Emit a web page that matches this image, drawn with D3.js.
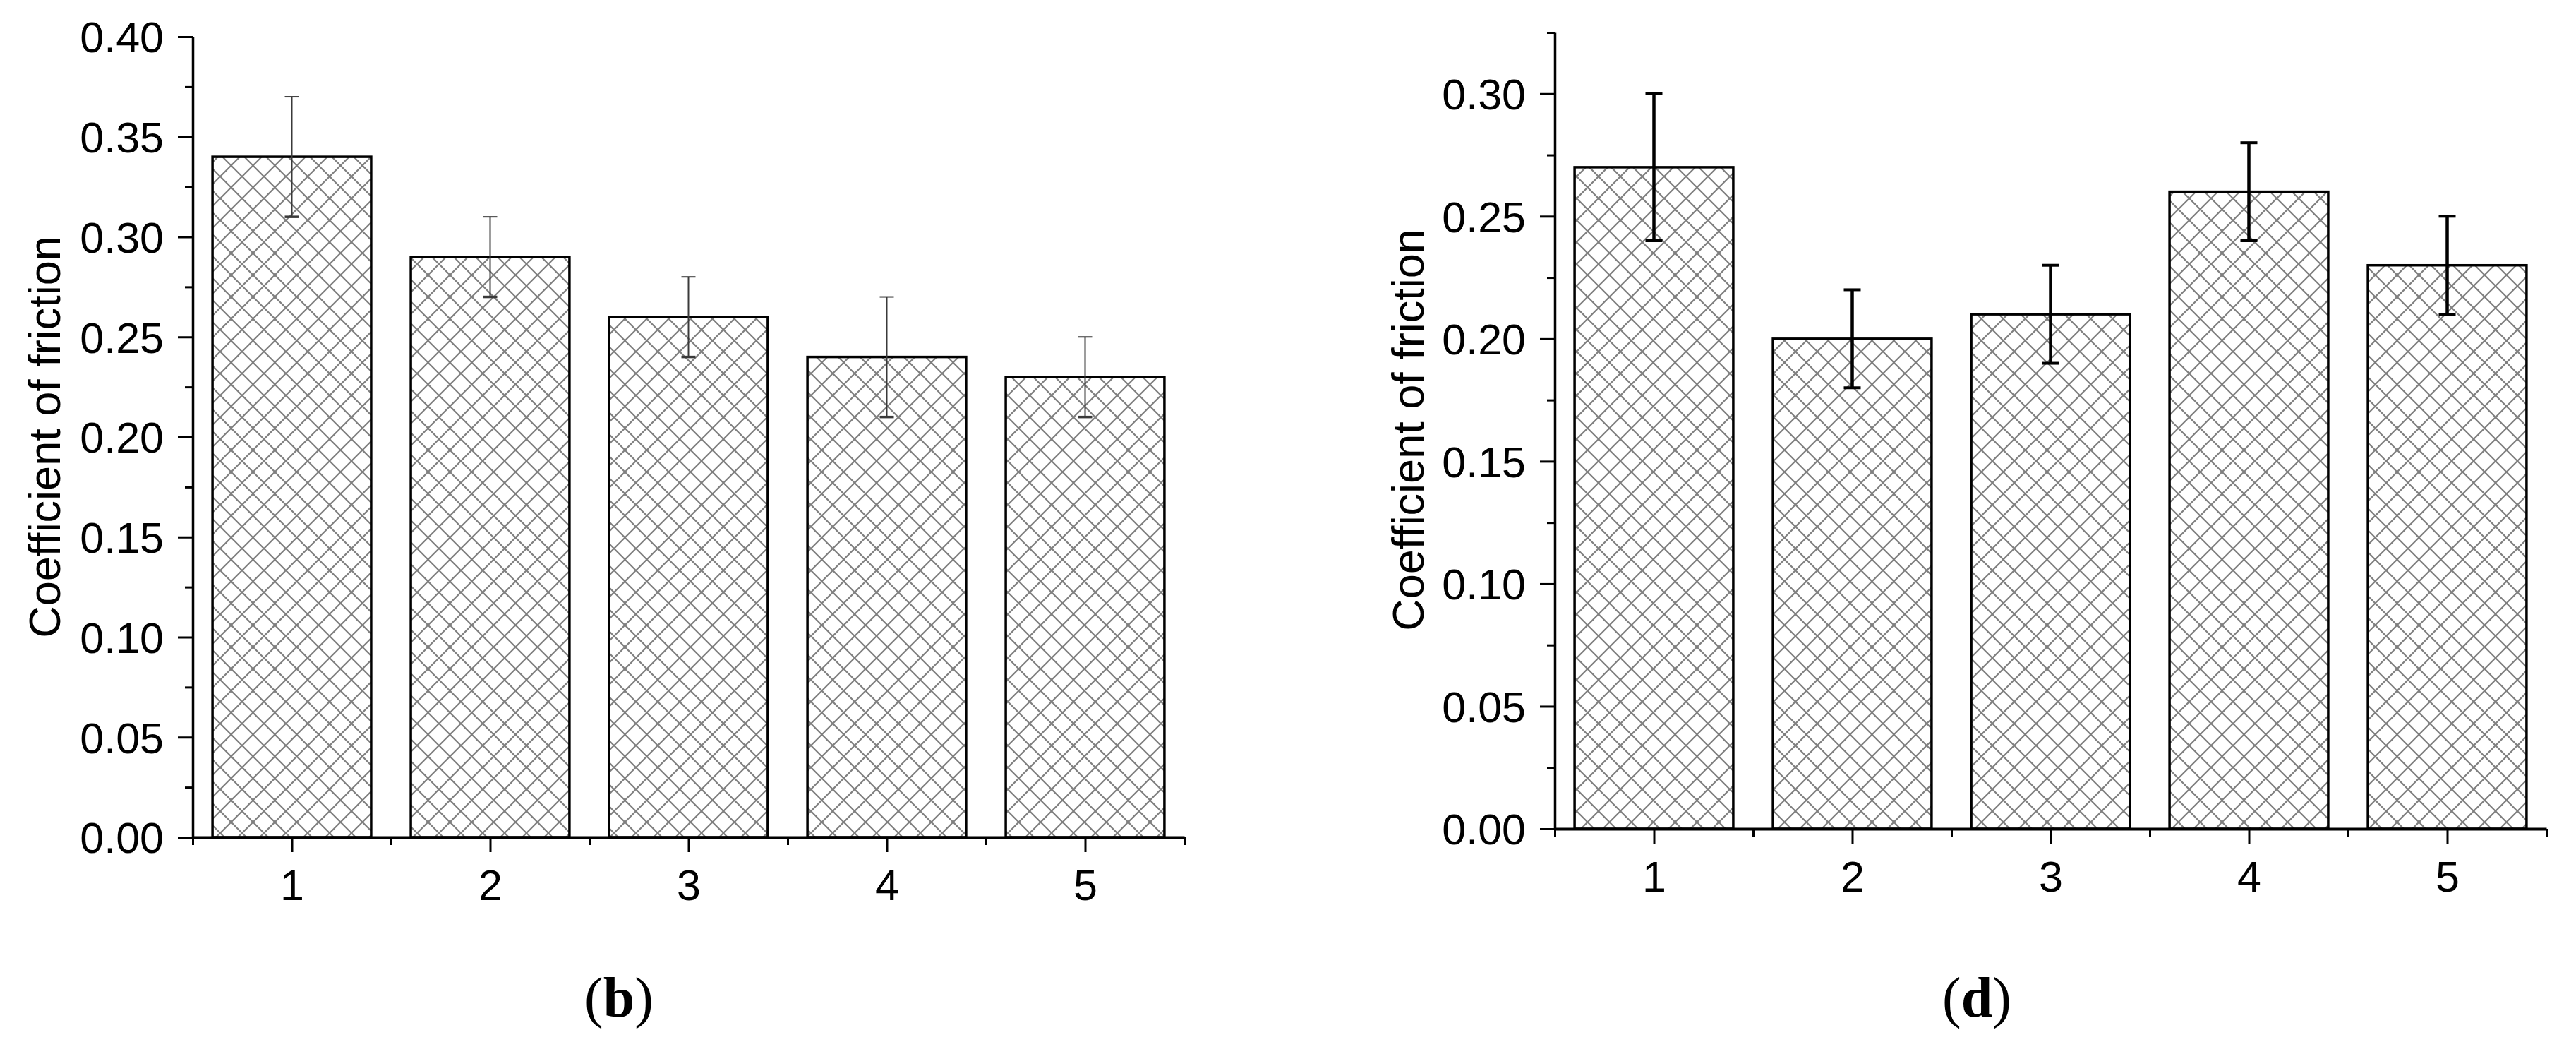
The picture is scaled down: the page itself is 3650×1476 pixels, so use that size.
<!DOCTYPE html>
<html>
<head>
<meta charset="utf-8">
<script src="https://cdn.jsdelivr.net/npm/d3@7"></script>
<style>
  body { margin: 0; background: #fff; }
  .tick text { font-family: "Liberation Sans", Arial, sans-serif; fill: #000; }
</style>
</head>
<body>
<svg id="chart" width="3650" height="1476"></svg>
<script>
// data
var categories = [1, 2, 3, 4, 5];
var cofB = [0.34, 0.29, 0.26, 0.24, 0.23];
var errB = [0.03, 0.02, 0.02, 0.03, 0.02];
var cofD = [0.27, 0.20, 0.21, 0.26, 0.23];
var errD = [0.03, 0.02, 0.02, 0.02, 0.02];
var yTicksB = [0, 0.05, 0.10, 0.15, 0.20, 0.25, 0.30, 0.35, 0.40];
var yTicksD = [0, 0.05, 0.10, 0.15, 0.20, 0.25, 0.30];
var yTitle = "Coefficient of friction";

var svg = d3.select("#chart");
svg.append("rect").attr("width", 3650).attr("height", 1476).attr("fill", "#fff");

// cross hatch
var pat = svg.append("defs").append("pattern")
    .attr("id", "hatch")
    .attr("patternUnits", "userSpaceOnUse")
    .attr("width", 31).attr("height", 31)
    .attr("x", 2).attr("y", 2);
pat.append("rect").attr("width", 31).attr("height", 31).attr("fill", "#fff");
pat.append("path")
    .attr("d", "M0,0L31,31M-15.5,15.5L15.5,46.5M15.5,-15.5L46.5,15.5M0,31L31,0M-15.5,15.5L15.5,-15.5M15.5,46.5L46.5,15.5")
    .attr("stroke", "#000")
    .attr("stroke-opacity", 0.5)
    .attr("stroke-width", 2.2);

function panel(o){
    var g = svg.append("g");

    var x = d3.scaleLinear().domain([0.5, 5.5]).range([o.left, o.left + 5 * o.step]);
    var y = d3.scaleLinear().domain([0, o.ymax]).range([o.bottom, o.top]);

    // bars
    g.selectAll("rect.bar")
        .data(o.values)
        .join("rect")
        .attr("class", "bar")
        .attr("x", function(d, i){ return x(categories[i] - 0.4); })
        .attr("width", x(1.4) - x(0.6))
        .attr("y", function(d){ return y(d); })
        .attr("height", function(d){ return y(0) - y(d); })
        .attr("fill", "url(#hatch)")
        .attr("stroke", "#000")
        .attr("stroke-width", 3.5);

    // error bars
    var eb = g.selectAll("g.err")
        .data(o.values)
        .join("g")
        .attr("class", "err")
        .attr("stroke", o.errColor);
    eb.append("line")
        .attr("x1", function(d, i){ return x(categories[i]); })
        .attr("x2", function(d, i){ return x(categories[i]); })
        .attr("y1", function(d, i){ return y(d + o.errors[i]); })
        .attr("y2", function(d, i){ return y(d - o.errors[i]); })
        .attr("stroke-width", o.errWidth);
    eb.append("line")
        .attr("x1", function(d, i){ return x(categories[i]) - o.cap; })
        .attr("x2", function(d, i){ return x(categories[i]) + o.cap; })
        .attr("y1", function(d, i){ return y(d + o.errors[i]); })
        .attr("y2", function(d, i){ return y(d + o.errors[i]); })
        .attr("stroke-width", o.capTop);
    eb.append("line")
        .attr("x1", function(d, i){ return x(categories[i]) - o.cap; })
        .attr("x2", function(d, i){ return x(categories[i]) + o.cap; })
        .attr("y1", function(d, i){ return y(d - o.errors[i]); })
        .attr("y2", function(d, i){ return y(d - o.errors[i]); })
        .attr("stroke-width", o.capBottom);

    // y axis
    var minorY = d3.range(0.025, o.ymax + 1e-9, 0.05);
    g.append("g")
        .attr("transform", "translate(" + o.left + ",0)")
        .call(d3.axisLeft(y).tickValues(minorY).tickSize(11).tickSizeOuter(0).tickFormat(""))
        .call(function(a){ a.select(".domain").remove(); })
        .selectAll("line").attr("stroke-width", 3);
    var ya = g.append("g")
        .attr("transform", "translate(" + o.left + ",0)")
        .call(d3.axisLeft(y).tickValues(o.yTicks).tickSize(21).tickSizeOuter(0)
            .tickPadding(20).tickFormat(d3.format(".2f")));
    ya.selectAll("line").attr("stroke-width", 3);
    ya.select(".domain").attr("stroke-width", 3.5);
    ya.selectAll("text").attr("font-size", o.font).attr("dy", "0.36em");

    // x axis
    var minorX = [0.5, 1.5, 2.5, 3.5, 4.5, 5.5];
    g.append("g")
        .attr("transform", "translate(0," + o.bottom + ")")
        .call(d3.axisBottom(x).tickValues(minorX).tickSize(11).tickSizeOuter(0).tickFormat(""))
        .call(function(a){ a.select(".domain").remove(); })
        .selectAll("line").attr("stroke-width", 3);
    var xa = g.append("g")
        .attr("transform", "translate(0," + o.bottom + ")")
        .call(d3.axisBottom(x).tickValues(categories).tickSize(21).tickSizeOuter(0)
            .tickPadding(24).tickFormat(d3.format("d")));
    xa.selectAll("line").attr("stroke-width", 3);
    xa.select(".domain").attr("stroke-width", 4);
    xa.selectAll("text").attr("font-size", o.font).attr("dy", "0.72em");

    // axis title
    g.append("text")
        .attr("transform", "translate(" + o.titleX + "," + o.titleY + ") rotate(-90)")
        .attr("text-anchor", "middle")
        .attr("font-family", "Liberation Sans, Arial, sans-serif")
        .attr("font-size", o.titleFont)
        .text(yTitle);

    // panel letter
    var lab = g.append("text")
        .attr("x", o.labelX).attr("y", 1440)
        .attr("text-anchor", "middle")
        .attr("font-family", "Liberation Serif, Times New Roman, serif")
        .attr("font-size", 80);
    lab.append("tspan").text("(");
    lab.append("tspan").attr("font-weight", "bold").text(o.letter);
    lab.append("tspan").text(")");
}

panel({
    values: cofB, errors: errB, yTicks: yTicksB, ymax: 0.40,
    left: 273, step: 281, top: 52, bottom: 1186,
    errColor: "#3a3a3a", errWidth: 2, cap: 10, capTop: 2, capBottom: 3.5,
    font: 61, titleFont: 63, titleX: 85, titleY: 619,
    labelX: 877, letter: "b"
});

panel({
    values: cofD, errors: errD, yTicks: yTicksD, ymax: 0.325,
    left: 2203, step: 281, top: 46, bottom: 1174,
    errColor: "#000", errWidth: 4.5, cap: 12, capTop: 4, capBottom: 4,
    font: 61, titleFont: 63, titleX: 2017, titleY: 609,
    labelX: 2801, letter: "d"
});
</script>
</body>
</html>
